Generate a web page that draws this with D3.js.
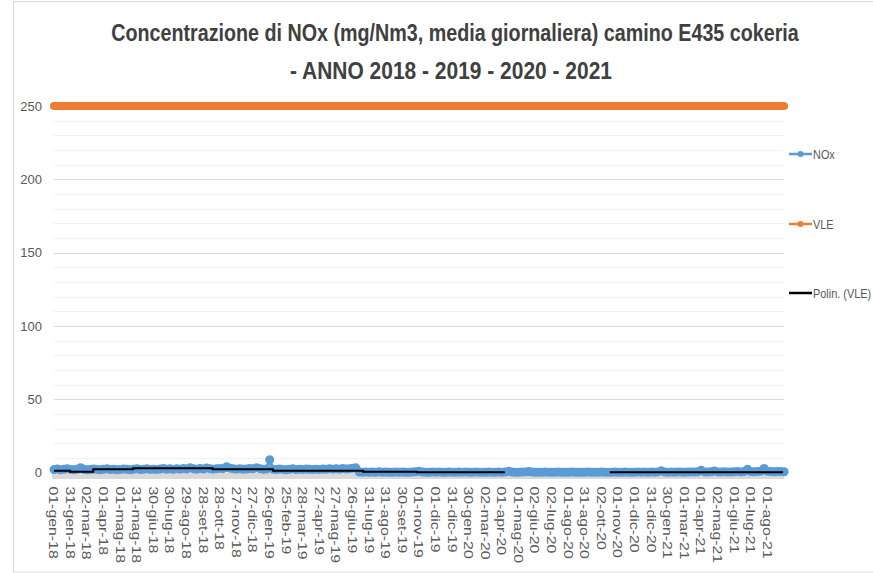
<!DOCTYPE html>
<html>
<head>
<meta charset="utf-8">
<script src="https://cdn.jsdelivr.net/npm/d3@7"></script>
<style>
  html, body { margin: 0; padding: 0; background: #ffffff; }
  svg { display: block; font-family: "Liberation Sans", Arial, sans-serif; }
</style>
</head>
<body>
<svg id="chart" width="873" height="573"></svg>
<script>
// ---------------- DATA ----------------
const titleLines = [
  "Concentrazione di NOx (mg/Nm3, media giornaliera) camino E435 cokeria",
  "- ANNO 2018 - 2019 - 2020 - 2021"
];
const categoryCount = 1321;          // daily categories on the axis
const tickStep = 30;                 // a label every 30 categories
const tickLabels = [
  "01-gen-18","31-gen-18","02-mar-18","01-apr-18","01-mag-18","31-mag-18","30-giu-18","30-lug-18",
  "29-ago-18","28-set-18","28-ott-18","27-nov-18","27-dic-18","26-gen-19","25-feb-19","28-mar-19",
  "27-apr-19","27-mag-19","26-giu-19","31-lug-19","31-ago-19","30-set-19","01-nov-19","01-dic-19",
  "31-dic-19","30-gen-20","02-mar-20","01-apr-20","01-mag-20","02-giu-20","02-lug-20","01-ago-20",
  "31-ago-20","02-ott-20","01-nov-20","01-dic-20","31-dic-20","30-gen-21","01-mar-21","01-apr-21",
  "02-mag-21","01-giu-21","01-lug-21","01-ago-21"
];
const yTicks = [0, 50, 100, 150, 200, 250];
const yGridMinor = [10,20,30,40,60,70,80,90,110,120,130,140,160,170,180,190,210,220,230,240];

const noxStep = 6;
const noxValues = [
  2.0, 2.4, 1.9, 2.2, 2.6, 2.1, 1.8, 2.3, 3.3, 2.2,
  1.9, 2.0, 2.4, 2.1, 1.8, 2.2, 2.5, 2.0, 2.3, 1.9,
  2.1, 2.4, 2.2, 1.9, 2.3, 2.6, 2.0, 2.2, 2.5, 2.1,
  2.3, 2.0, 2.4, 2.7, 2.2, 2.5, 2.1, 2.6, 2.3, 2.8,
  2.4, 3.3, 2.5, 2.2, 2.7, 2.4, 3.0, 2.6, 2.3, 2.5,
  2.8, 2.6, 4.0, 2.9, 2.5, 2.3, 2.6, 2.2, 2.4, 2.7,
  2.5, 3.3, 2.6, 2.2, 2.4, 8.7, 2.3, 2.0, 2.4, 2.1,
  1.9, 2.2, 2.5, 2.0, 2.3, 2.1, 2.4, 2.2, 2.0, 2.3,
  2.1, 2.4, 2.2, 2.6, 2.3, 2.5, 2.2, 2.7, 2.4, 2.6,
  2.9, 3.2, 0.3, 0.2, 0.4, 0.1, 0.3, 0.2, 0.5, 0.2,
  0.3, 0.1, 0.2, 0.4, 0.2, 0.3, 0.1, 0.2, 0.3, 0.5,
  0.9, 0.3, 0.2, 0.1, 0.3, 0.2, 0.4, 0.1, 0.2, 0.3,
  0.2, 0.1, 0.3, 0.2, 0.4, 0.2, 0.1, 0.3, 0.2, 0.1,
  0.2, 0.3, 0.1, 0.2, 0.4, 0.2, 0.3, 0.8, 0.3, 0.1,
  0.2, 0.3, 0.4, 0.7, 0.3, 0.2, 0.1, 0.2, 0.3, 0.1,
  0.2, 0.1, 0.3, 0.2, 0.1, 0.2, 0.3, 0.1, 0.2, 0.1,
  0.2, 0.3, 0.1, 0.2, 0.1, 0.3, 0.2, 0.1, 0.2, 0.3,
  0.1, 0.2, 0.3, 0.2, 0.1, 0.2, 0.4, 0.2, 0.3, 0.2,
  0.3, 0.2, 0.4, 1.2, 0.3, 0.2, 0.3, 0.2, 0.4, 0.3,
  0.2, 0.3, 0.4, 0.3, 0.5, 1.5, 0.4, 0.3, 0.5, 1.0,
  0.4, 0.3, 0.5, 0.4, 0.3, 0.5, 0.6, 0.4, 0.7, 2.2,
  0.6, 0.5, 0.7, 0.9, 2.8, 0.8, 0.6, 0.5, 0.7, 0.6,
  0.5
];

// VLE limit
const vleValue = 250;

// Polin. (VLE) trend: piecewise segments (category from/to, value; null = gap)
const trendFrom  = [0,   29,   71,  143, 287, 396, 559,  656,  815,  1005];
const trendTo    = [29,  71,   143, 287, 396, 559, 656,  815,  1005, 1318];
const trendValue = [1.2, 0.55, 2.2, 2.9, 2.2, 1.2, 0.55, 0.15, null, 0.15];

const legendNames = ["NOx", "VLE", "Polin. (VLE)"];
const colors = { nox: "#5B9BD5", vle: "#ED7D31", trend: "#000000" };

// ---------------- CHART ----------------
const svg = d3.select("#chart");

const x = d3.scaleLinear().domain([0, (tickLabels.length - 1) * tickStep]).range([54, 767.5]);
const y = d3.scaleLinear().domain([0, 250]).range([472.5, 106]);
const xMin = x(0), xMax = x(categoryCount - 1);

// outer chart border
svg.append("rect")
  .attr("x", 13.5).attr("y", 1.5).attr("width", 900).attr("height", 570.5)
  .attr("fill", "none").attr("stroke", "#d9d9d9").attr("stroke-width", 1);

// title (condensed to the reference width with a horizontal scale)
const titleCenters = [455, 451];
const titleBaselines = [41, 79];
const titleWidths = [688, 322];
titleLines.forEach((t, i) => {
  const g = svg.append("g");
  const txt = g.append("text")
    .attr("x", 0).attr("y", 0)
    .attr("text-anchor", "middle")
    .attr("font-size", 23)
    .attr("font-weight", "bold")
    .attr("fill", "#404040")
    .text(t);
  const w = txt.node().getComputedTextLength();
  g.attr("transform", `translate(${titleCenters[i]},${titleBaselines[i]}) scale(${titleWidths[i] / w},1)`);
});

// gridlines
svg.append("g").selectAll("line").data(yGridMinor).join("line")
  .attr("x1", xMin).attr("x2", xMax)
  .attr("y1", d => Math.round(y(d)) + 0.5).attr("y2", d => Math.round(y(d)) + 0.5)
  .attr("stroke", "#f0f0f0").attr("stroke-width", 1);
svg.append("g").selectAll("line").data(yTicks.filter(d => d > 0)).join("line")
  .attr("x1", xMin).attr("x2", xMax)
  .attr("y1", d => Math.round(y(d)) + 0.5).attr("y2", d => Math.round(y(d)) + 0.5)
  .attr("stroke", "#d9d9d9").attr("stroke-width", 1);

// horizontal axis band
svg.append("line")
  .attr("x1", xMin - 2).attr("x2", xMax)
  .attr("y1", y(0) + 3.5).attr("y2", y(0) + 3.5)
  .attr("stroke", "#d9d9d9").attr("stroke-width", 6);

// y axis labels
const yAxis = d3.axisLeft(y).tickValues(yTicks).tickSize(0).tickPadding(0).tickFormat(d3.format("d"));
const gy = svg.append("g").attr("transform", "translate(42,0)").call(yAxis);
gy.select(".domain").remove();
gy.selectAll("text")
  .attr("font-size", 13)
  .attr("font-family", "'Liberation Sans', Arial, sans-serif")
  .attr("fill", "#595959");

// x axis labels
const xAxis = d3.axisBottom(x)
  .tickValues(tickLabels.map((_, i) => i * tickStep))
  .tickSize(0)
  .tickFormat((d, i) => tickLabels[i]);
const gx = svg.append("g").attr("transform", `translate(0,${y(0)})`).call(xAxis);
gx.select(".domain").remove();
gx.selectAll("text")
  .attr("font-size", 12)
  .attr("font-family", "'Liberation Sans', Arial, sans-serif")
  .attr("fill", "#595959")
  .attr("text-anchor", "start")
  .attr("x", 0).attr("y", 0)
  .attr("dy", "0.35em")
  .attr("transform", "translate(-1,14) rotate(90) scale(1.32,1)");

// VLE line
svg.append("path")
  .datum([0, categoryCount - 1])
  .attr("d", d3.line().x(d => x(d)).y(() => y(vleValue)))
  .attr("fill", "none").attr("stroke", colors.vle)
  .attr("stroke-width", 8).attr("stroke-linecap", "round");

// NOx series (line + markers)
const noxPts = noxValues.map((v, i) => ({ c: i * noxStep, v }));
svg.append("path")
  .datum(noxPts)
  .attr("d", d3.line().x(d => x(d.c)).y(d => y(d.v)))
  .attr("fill", "none").attr("stroke", colors.nox)
  .attr("stroke-width", 3).attr("stroke-linejoin", "round");
svg.append("g").selectAll("circle").data(noxPts).join("circle")
  .attr("cx", d => x(d.c)).attr("cy", d => y(d.v)).attr("r", 4.5)
  .attr("fill", colors.nox);

// Polin. (VLE) trend line
const trendPts = [];
trendFrom.forEach((f, i) => {
  trendPts.push({ c: f, v: trendValue[i] });
  trendPts.push({ c: trendTo[i], v: trendValue[i] });
});
svg.append("path")
  .datum(trendPts)
  .attr("d", d3.line().defined(d => d.v !== null).x(d => x(d.c)).y(d => y(d.v)))
  .attr("fill", "none").attr("stroke", colors.trend).attr("stroke-width", 2);

// legend
const legendY = [154, 224, 293];
const legendColors = [colors.nox, colors.vle, colors.trend];
legendNames.forEach((name, i) => {
  const g = svg.append("g").attr("transform", `translate(789,${legendY[i]})`);
  g.append("line").attr("x1", 0).attr("x2", 23).attr("y1", 0).attr("y2", 0)
    .attr("stroke", legendColors[i]).attr("stroke-width", 2.5);
  if (i < 2) {
    g.append("circle").attr("cx", 11.5).attr("cy", 0).attr("r", 3).attr("fill", legendColors[i]);
  }
  g.append("text")
    .attr("transform", "translate(24,0) scale(0.84,1)")
    .attr("dy", "0.35em")
    .attr("font-size", 13)
    .attr("fill", "#595959")
    .text(name);
});
</script>
</body>
</html>
